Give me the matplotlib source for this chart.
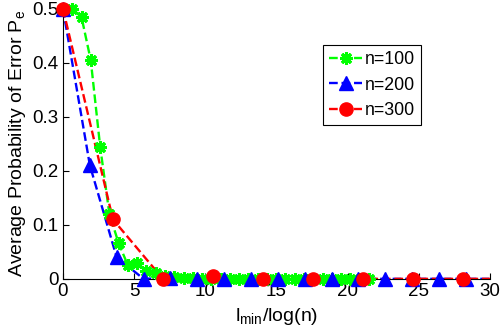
import matplotlib
matplotlib.use('Agg')
from matplotlib import pyplot as plt
from matplotlib.lines import Line2D

# n=100
x100 = [0, 0.65, 1.30, 1.95, 2.61, 3.26, 3.91, 4.56, 5.21, 5.86, 6.51, 7.17,
        7.82, 8.47, 9.12, 9.77, 10.42, 11.07, 11.72, 12.38, 13.03, 13.68,
        14.33, 14.98, 15.63, 16.28, 16.94, 17.59, 18.24, 18.89, 19.54, 20.19,
        20.84, 21.49]
y100 = [0.5, 0.5, 0.485, 0.405, 0.245, 0.12, 0.066, 0.025, 0.03, 0.014, 0.01,
        0.005, 0.003, 0.002, 0.001, 0, 0, 0, 0, 0, 0, 0, 0, 0, 0, 0, 0, 0, 0,
        0, 0, 0, 0, 0]

# n=200
x200 = [0, 1.89, 3.77, 5.66, 7.55, 9.44, 11.33, 13.21, 15.10, 16.99, 18.88,
        20.76, 22.65, 24.54, 26.43, 28.31, 30.20]
y200 = [0.5, 0.21, 0.04, 0, 0.002, 0, 0, 0, 0, 0, 0, 0, 0, 0, 0, 0, 0]

# n=300
x300 = [0, 3.51, 7.02, 10.53, 14.04, 17.55, 21.06, 24.57, 28.08, 31.59]
y300 = [0.5, 0.11, 0, 0.005, 0, 0, 0, 0, 0, 0]

labels = ['n=100', 'n=200', 'n=300']
series = [(x100, y100, (0, 1, 0), (8, 2, 0), 9, 2.2),
          (x200, y200, (0, 0, 1), '^', 10, 1),
          (x300, y300, (1, 0, 0), 'o', 9.5, 1)]

plt.rcParams['font.family'] = ['Liberation Sans', 'DejaVu Sans']
plt.rcParams['mathtext.fontset'] = 'custom'
plt.rcParams['mathtext.rm'] = 'Liberation Sans'

fig = plt.figure(figsize=(5, 3.3), dpi=100)
ax = fig.add_axes([0.126, 0.155, 0.854, 0.818])

XMAX = 30
handles = []
for (xs, ys, c, m, ms, mew), lab in zip(series, labels):
    # dashed line stays inside the axes, markers sit on top of the spine
    ax.plot(xs, ys, '--', color=c, lw=1.7)
    xin = [x for x in xs if x <= XMAX]
    yin = [y for x, y in zip(xs, ys) if x <= XMAX]
    ax.plot(xin, yin, ls='none', marker=m, color=c, ms=ms, mew=mew,
            clip_on=False, zorder=3)
    handles.append(Line2D([], [], ls='--', lw=1.7, color=c, marker=m,
                          ms=ms, mew=mew))

ax.set_xlim(0, XMAX)
ax.set_ylim(0, 0.5)
ax.set_xticks([0, 5, 10, 15, 20, 25, 30])
ax.set_yticks([0, 0.1, 0.2, 0.3, 0.4, 0.5])
ax.set_yticklabels(['0', '0.1', '0.2', '0.3', '0.4', '0.5'])
ax.spines['top'].set_visible(False)
ax.spines['right'].set_visible(False)
ax.tick_params(direction='in', labelsize=13.5, length=4, pad=3)

ax.set_xlabel(r'l$_{\mathregular{min}}$/log(n)', fontsize=14, labelpad=4)
ax.set_ylabel(r'Average Probability of Error P$_{\mathregular{e}}$',
              fontsize=14, labelpad=3)

leg = ax.legend(handles, labels, loc='upper left',
                fancybox=False, framealpha=1, edgecolor='black',
                handlelength=1.85, fontsize=12.8, borderpad=0.35,
                labelspacing=0.48, handletextpad=0.15, borderaxespad=0)
leg.set_bbox_to_anchor((0.646, 0.864), transform=fig.transFigure)
leg.get_frame().set_linewidth(0.8)

fig.savefig('out.png', dpi=100)
